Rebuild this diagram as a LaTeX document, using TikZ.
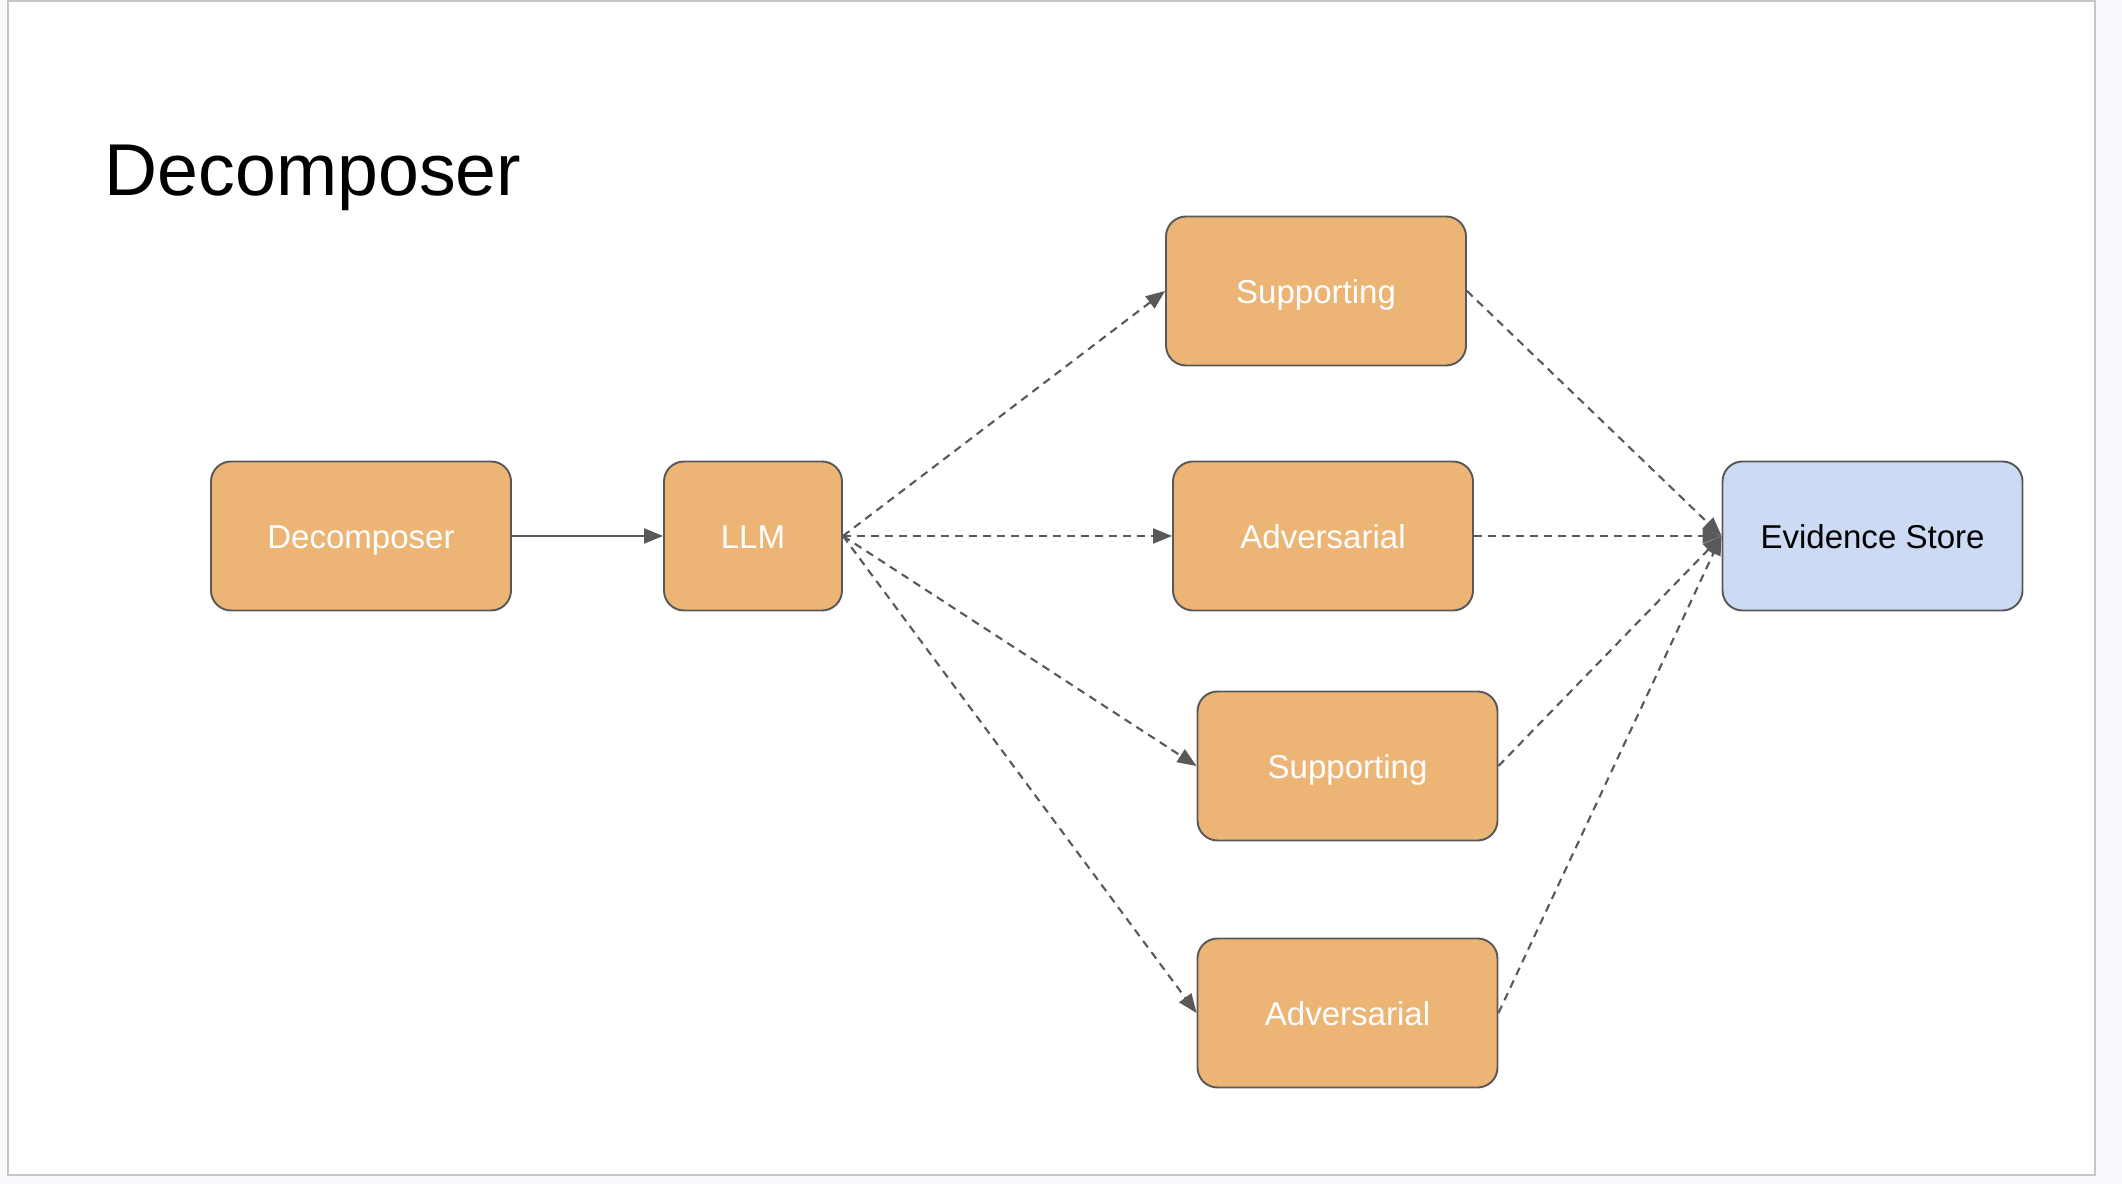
\documentclass[tikz,border=0pt]{standalone}
\usepackage{fontspec}
\setmainfont{Liberation Sans}
\usetikzlibrary{positioning,arrows.meta}
\definecolor{pagebg}{HTML}{F8F9FD}
\definecolor{slideedge}{HTML}{C6C6C6}
\definecolor{boxorange}{HTML}{ECB576}
\definecolor{boxblue}{HTML}{CCDAF3}
\definecolor{edgegrey}{HTML}{595959}

\tikzset{
  stagebox/.style={draw=edgegrey,line width=0.55pt,rounded corners=0.2cm,
    fill=boxorange,text=white,minimum width=3cm,minimum height=1.49cm,
    text height=7.4pt,text depth=0.5pt,
    font=\fontsize{9.4}{11}\selectfont},
  storebox/.style={stagebox,fill=boxblue,text=black},
  flow/.style={draw=edgegrey,line width=0.6pt,
    -{Triangle[length=0.19cm,width=0.15cm]}},
  maybeflow/.style={flow,dash pattern=on 0.08cm off 0.06cm}
}

\begin{document}
\begin{tikzpicture}
  % page and slide
  \fill[pagebg] (0,0) rectangle (21.22,11.84);
  \useasboundingbox (0,0) rectangle (21.22,11.84);
  \draw[slideedge,fill=white,line width=0.6pt] (0.08,0.09) rectangle (20.95,11.83);

  \node[anchor=base west,inner sep=0pt,font=\fontsize{20.9}{24}\selectfont] (title)
    at (1.04,9.88) {Decomposer};

  % left part
  \node[stagebox] (decomposer) at (3.61,6.48) {Decomposer};
  \node[stagebox,minimum width=1.78cm] (llm) at (7.53,6.48) {LLM};

  % evidence producers
  \node[stagebox] (supA) at (13.16,8.93) {Supporting};
  \node[stagebox] (advA) at (13.23,6.48) {Adversarial};
  \node[stagebox] (supB) at (13.475,4.18) {Supporting};
  \node[stagebox] (advB) at (13.475,1.71) {Adversarial};

  \node[storebox] (store) at (18.725,6.48) {Evidence Store};

  \draw[flow] (decomposer.east) -- (llm.west);
  \foreach \n in {supA,advA,supB,advB} {
    \draw[maybeflow] (llm.east) -- (\n.west);
    \draw[maybeflow] (\n.east) -- (store.west);
  }
\end{tikzpicture}
\end{document}
